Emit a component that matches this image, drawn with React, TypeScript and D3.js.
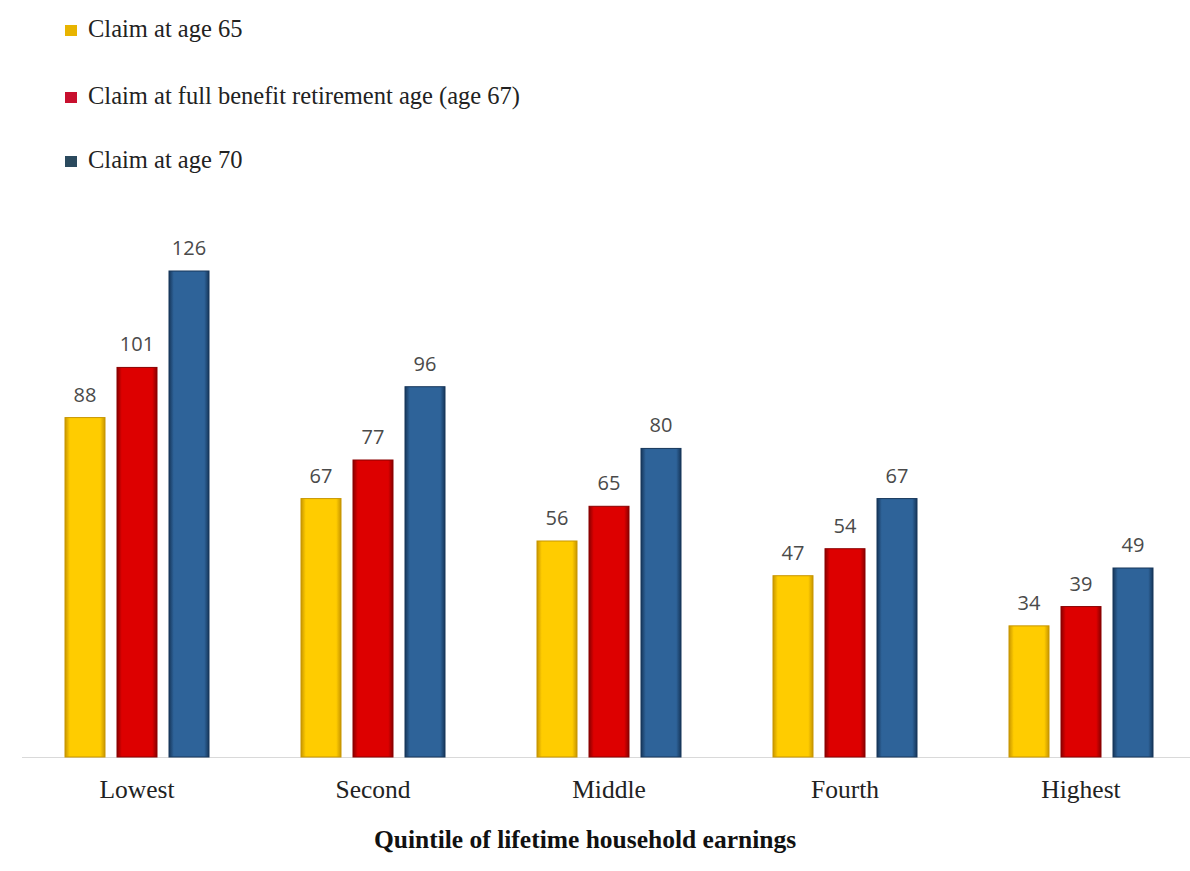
import React from "react";
import * as d3 from "d3";

const categories = ["Lowest", "Second", "Middle", "Fourth", "Highest"];
const seriesNames = [
  "Claim at age 65",
  "Claim at full benefit retirement age (age 67)",
  "Claim at age 70",
];
const age65 = [88, 67, 56, 47, 34];
const age67 = [101, 77, 65, 54, 39];
const age70 = [126, 96, 80, 67, 49];
const seriesValues = [age65, age67, age70];
const colors = [
  { mid: "#FFCC00", edge: "#C89600", legend: "#E8B400" },
  { mid: "#DD0000", edge: "#8A0000", legend: "#C8102E" },
  { mid: "#2E6399", edge: "#16365A", legend: "#2B4A5E" },
];
const axisTitle = "Quintile of lifetime household earnings";

const W = 1190;
const H = 871;

export default function App() {
  const baseY = 757;
  const x0 = d3.scaleBand<string>().domain(categories).range([19, 1199]).paddingInner(0).paddingOuter(0);
  const x1 = d3.scaleBand<number>().domain([0, 1, 2]).range([46, 190]).paddingInner(0.2308).paddingOuter(0);
  const y = d3.scaleLinear().domain([0, 126]).range([baseY, 271]);
  const serif = "'Liberation Serif', 'DejaVu Serif', serif";
  const sans = "'Open Sans', 'Liberation Sans', sans-serif";

  return (
    <svg width={W} height={H} style={{ position: "absolute", left: 0, top: 0, background: "#fff" }}>
      <defs>
        {colors.map((c, i) => (
          <linearGradient key={i} id={`g${i}`} x1="0" x2="1" y1="0" y2="0">
            <stop offset="0%" stopColor={c.edge} />
            <stop offset="12%" stopColor={c.mid} />
            <stop offset="50%" stopColor={c.mid} />
            <stop offset="88%" stopColor={c.mid} />
            <stop offset="100%" stopColor={c.edge} />
          </linearGradient>
        ))}
      </defs>
      <rect x={0} y={0} width={W} height={H} fill="#fff" />
      {seriesNames.map((s, i) => {
        const ly = [30, 97, 161][i];
        return (
          <g key={s}>
            <rect x={65} y={ly - 5} width={12} height={11} fill={colors[i].legend} />
            <text x={88} y={ly + 7} fontFamily={serif} fontSize={24.5} fill="#222">
              {s}
            </text>
          </g>
        );
      })}
      <line x1={22} x2={1190} y1={baseY + 0.5} y2={baseY + 0.5} stroke="#d9d9d9" strokeWidth={1} />
      {categories.map((c, ci) => (
        <g key={c} transform={`translate(${x0(c)},0)`}>
          {seriesValues.map((vals, si) => {
            const v = vals[ci];
            const bx = x1(si)!;
            const bw = x1.bandwidth();
            return (
              <g key={si}>
                <rect
                  x={bx}
                  y={y(v)}
                  width={bw}
                  height={baseY - y(v)}
                  fill={`url(#g${si})`}
                  stroke={colors[si].edge}
                  strokeWidth={1}
                />
                <text
                  x={bx + bw / 2}
                  y={y(v) - 16}
                  textAnchor="middle"
                  fontFamily={sans}
                  fontSize={20}
                  fill="#4a4a4a"
                >
                  {v}
                </text>
              </g>
            );
          })}
          <text
            x={(x1.range()[0] + x1.range()[1]) / 2}
            y={798}
            textAnchor="middle"
            fontFamily={serif}
            fontSize={25.5}
            fill="#222"
          >
            {c}
          </text>
        </g>
      ))}
      <text x={585} y={848} textAnchor="middle" fontFamily={serif} fontSize={25.5} fontWeight="bold" fill="#111">
        {axisTitle}
      </text>
    </svg>
  );
}
